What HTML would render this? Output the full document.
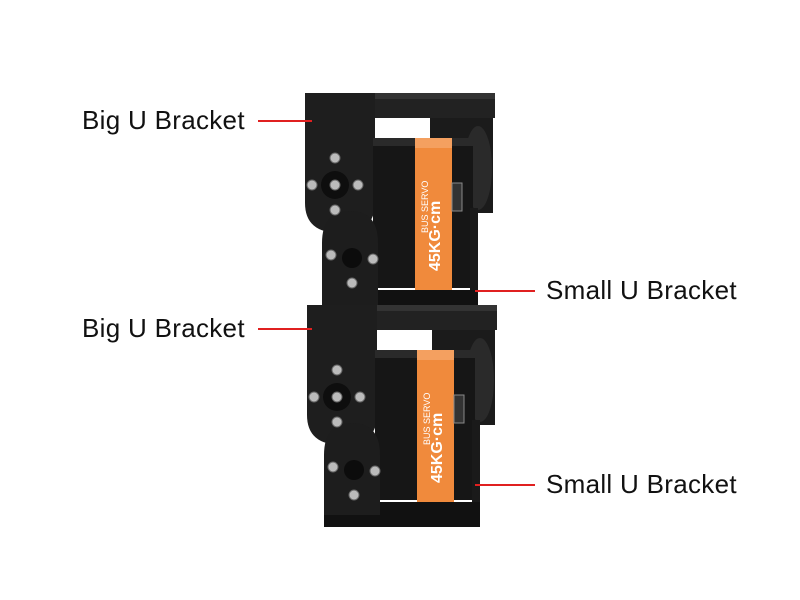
<!DOCTYPE html>
<html><head><style>
body{margin:0;background:#fff;width:800px;height:600px;overflow:hidden;position:relative;font-family:"Liberation Sans",sans-serif}
.l{position:absolute;font-size:26px;color:#111;line-height:1}
</style></head><body>
<svg width="800" height="600" style="position:absolute;left:0;top:0">
<defs>
<g id="unit">
 <rect x="430" y="0" width="63" height="120" fill="#1b1b1b"/>
 <ellipse cx="478" cy="75" rx="14" ry="42" fill="#2a2a2a"/>
 <rect x="305" y="0" width="190" height="25" fill="#222"/>
 <rect x="305" y="0" width="190" height="6" fill="#333"/>
 <path d="M305 0 H375 V110 Q375 140 340 140 Q305 140 305 110 Z" fill="#1e1e1e"/>
 <rect x="373" y="45" width="100" height="150" fill="#161616"/>
 <rect x="373" y="45" width="100" height="8" fill="#2a2a2a"/>
 <rect x="415" y="45" width="37" height="152" fill="#f08a3c"/>
 <rect x="415" y="45" width="37" height="10" fill="#f4a060"/>
 <text x="0" y="0" transform="translate(440,178) rotate(-90)" font-size="16" font-weight="bold" fill="#fff" font-family="Liberation Sans,sans-serif">45KG·cm</text>
 <text x="0" y="0" transform="translate(428,140) rotate(-90)" font-size="9" fill="#fff" font-family="Liberation Sans,sans-serif">BUS SERVO</text>
 <rect x="452" y="90" width="10" height="28" fill="#333" stroke="#888" stroke-width="1"/>
 <rect x="470" y="115" width="8" height="100" fill="#1a1a1a"/>
 <rect x="322" y="197" width="156" height="15" fill="#111"/>
 <path d="M322 212 V150 Q322 118 350 118 Q378 118 378 150 V212 Z" fill="#1d1d1d"/>
 <circle cx="335" cy="92" r="14" fill="#0e0e0e"/>
 <g fill="#bbb" stroke="#666" stroke-width="1">
  <circle cx="335" cy="65" r="5"/><circle cx="335" cy="92" r="5"/><circle cx="312" cy="92" r="5"/><circle cx="358" cy="92" r="5"/><circle cx="335" cy="117" r="5"/>
  <circle cx="331" cy="162" r="5"/><circle cx="373" cy="166" r="5"/><circle cx="352" cy="190" r="5"/>
 </g>
 <circle cx="352" cy="165" r="10" fill="#0c0c0c"/>
</g>
</defs>
<use href="#unit" transform="translate(0,93)"/>
<use href="#unit" transform="translate(2,305)"/>
<rect x="324" y="515" width="156" height="12" fill="#111"/>
<g stroke="#e02020" stroke-width="2">
<line x1="258" y1="121" x2="312" y2="121"/>
<line x1="475" y1="291" x2="535" y2="291"/>
<line x1="258" y1="329" x2="312" y2="329"/>
<line x1="475" y1="485" x2="535" y2="485"/>
</g>
</svg>
<div class="l" style="left:82px;top:107px;letter-spacing:0.3px">Big U Bracket</div>
<div class="l" style="left:546px;top:277px;letter-spacing:0.3px">Small U Bracket</div>
<div class="l" style="left:82px;top:315px;letter-spacing:0.3px">Big U Bracket</div>
<div class="l" style="left:546px;top:471px;letter-spacing:0.3px">Small U Bracket</div>
</body></html>
